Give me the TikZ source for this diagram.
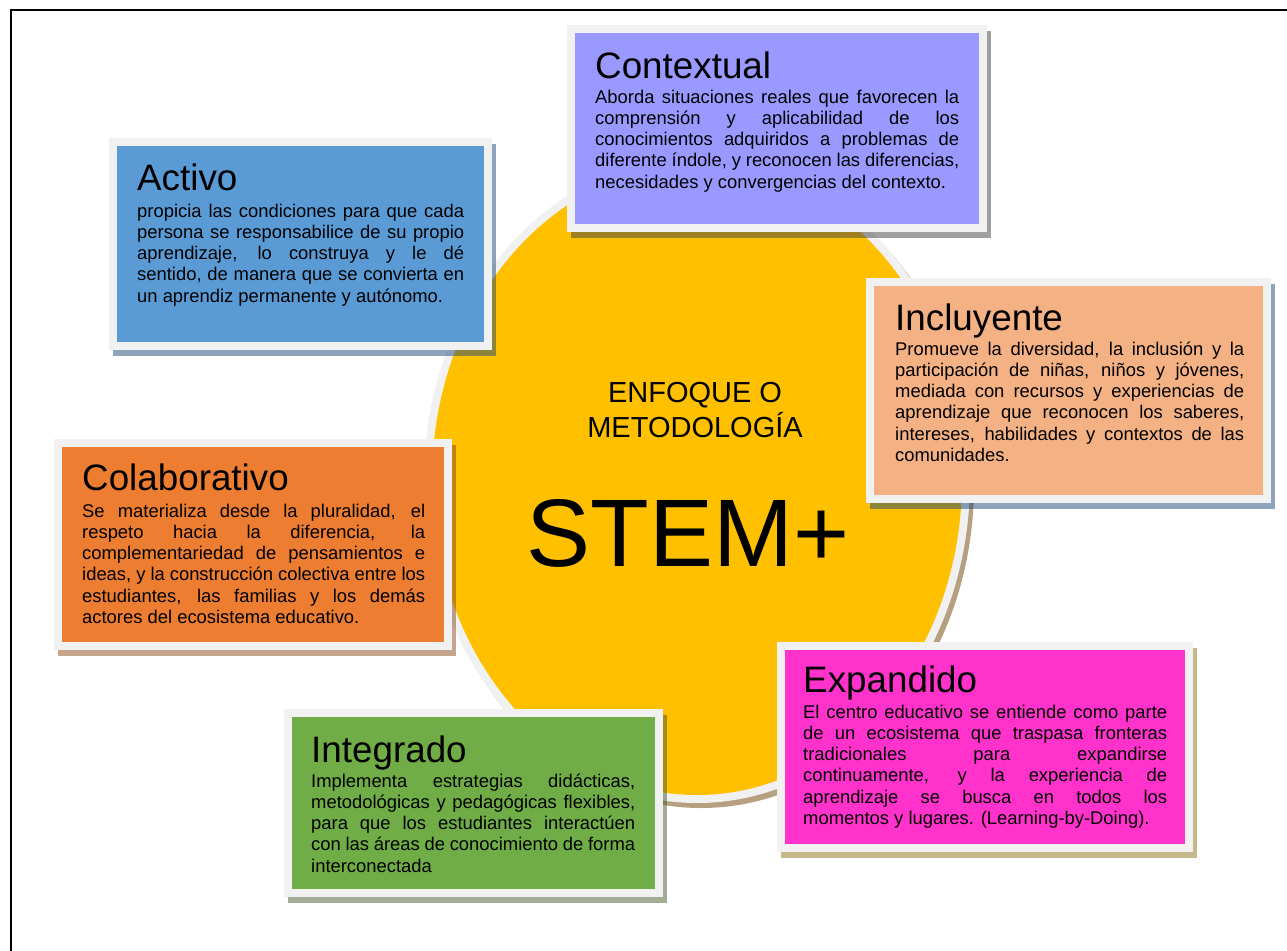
\documentclass[tikz,border=0pt]{standalone}
\usepackage{fontspec}
\setmainfont{Liberation Sans}
\hyphenpenalty=10000
\exhyphenpenalty=10000
\hbadness=10000
\hfuzz=3pt
\definecolor{cctx}{HTML}{9999FF}
\definecolor{cact}{HTML}{5B9BD5}
\definecolor{cinc}{HTML}{F4B183}
\definecolor{ccol}{HTML}{ED7D31}
\definecolor{cexp}{HTML}{FF33CC}
\definecolor{cint}{HTML}{70AD47}
\definecolor{cyel}{HTML}{FFC000}
\definecolor{framegray}{HTML}{F1F1F1}
\definecolor{shgray}{RGB}{65,65,65}
\definecolor{shblue}{RGB}{29,73,121}
\definecolor{shbrown}{RGB}{137,73,25}
\definecolor{shtan}{RGB}{145,115,25}
\definecolor{shgreen}{RGB}{73,89,41}
\definecolor{shcirc}{RGB}{107,65,0}
\newcommand\cardbox[6]{%
  \fill[#6, opacity=.5] (#1+4,#2+6) rectangle (#3+4,#4+6);
  \fill[framegray] (#1,#2) rectangle (#3,#4);
  \fill[#5] (#1+8,#2+8) rectangle (#3-8,#4-8);
}
\tikzset{
  ttl/.style={anchor=base west, inner sep=0pt, font=\fontsize{36.8}{40}\selectfont},
  body/.style={anchor=base west, inner sep=0pt, align=justify,
    font=\fontsize{18.4}{21.3}\selectfont},
  centertxt/.style={anchor=base, inner sep=0pt, font=\fontsize{29}{32}\selectfont}
}
\begin{document}
\begin{tikzpicture}[x=1pt,y=-1pt]
\useasboundingbox (0,0) rectangle (1287,950);
% frame
\draw[line width=2.5pt] (11,951) -- (11,10) -- (1288,10);
% central ellipse
\fill[shcirc, opacity=.5] (701,485) ellipse [x radius=273, y radius=323];
\fill[framegray] (697,480) ellipse [x radius=273, y radius=323];
\fill[cyel] (697,480) ellipse [x radius=265, y radius=315];
\node[centertxt] (enf) at (695,402) {ENFOQUE O};
\node[centertxt] (met) at (695,437) {METODOLOGÍA};
\node[anchor=base, inner sep=0pt, font=\fontsize{96}{100}\selectfont] (stem) at (688,566) {STEM+};
% boxes
\cardbox{567}{25}{987}{232}{cctx}{shgray}
\node[ttl] (ctxH) at (595,78) {Contextual};
\node[body, text width=364pt] (ctxB) at (595,103) {Aborda situaciones reales que favorecen la\linebreak comprensión y aplicabilidad de los\linebreak conocimientos adquiridos a problemas de\linebreak diferente índole, y reconocen las diferencias,\linebreak necesidades y convergencias del contexto.};

\cardbox{109}{138}{492}{350}{cact}{shblue}
\node[ttl] (actH) at (137,190) {Activo};
\node[body, text width=327pt] (actB) at (137,217) {propicia las condiciones para que cada\linebreak persona se responsabilice de su propio\linebreak aprendizaje, lo construya y le dé\linebreak sentido, de manera que se convierta en\linebreak un aprendiz permanente y autónomo.};

\cardbox{866}{278}{1271}{503}{cinc}{shblue}
\node[ttl] (incH) at (895,330) {Incluyente};
\node[body, text width=349pt] (incB) at (895,355) {Promueve la diversidad, la inclusión y la\linebreak participación de niñas, niños y jóvenes,\linebreak mediada con recursos y experiencias de\linebreak aprendizaje que reconocen los saberes,\linebreak intereses, habilidades y contextos de las\linebreak comunidades.};

\cardbox{54}{439}{452}{650}{ccol}{shbrown}
\node[ttl] (colH) at (82,490) {Colaborativo};
\node[body, text width=343pt] (colB) at (82,517) {Se materializa desde la pluralidad, el\linebreak respeto hacia la diferencia, la\linebreak complementariedad de pensamientos e\linebreak ideas, y la construcción colectiva entre los\linebreak estudiantes, las familias y los demás\linebreak actores del ecosistema educativo.};

\cardbox{777}{642}{1193}{852}{cexp}{shtan}
\node[ttl] (expH) at (803,692) {Expandido};
\node[body, text width=364pt] (expB) at (803,718) {El centro educativo se entiende como parte\linebreak de un ecosistema que traspasa fronteras\linebreak tradicionales para expandirse\linebreak continuamente, y la experiencia de\linebreak aprendizaje se busca en todos los\linebreak momentos y lugares. (Learning-by-Doing).};

\cardbox{284}{709}{663}{897}{cint}{shgreen}
\node[ttl] (intH) at (311,762) {Integrado};
\node[body, text width=324pt] (intB) at (311,787) {Implementa estrategias didácticas,\linebreak metodológicas y pedagógicas flexibles,\linebreak para que los estudiantes interactúen\linebreak con las áreas de conocimiento de forma\linebreak interconectada};
\end{tikzpicture}
\end{document}
